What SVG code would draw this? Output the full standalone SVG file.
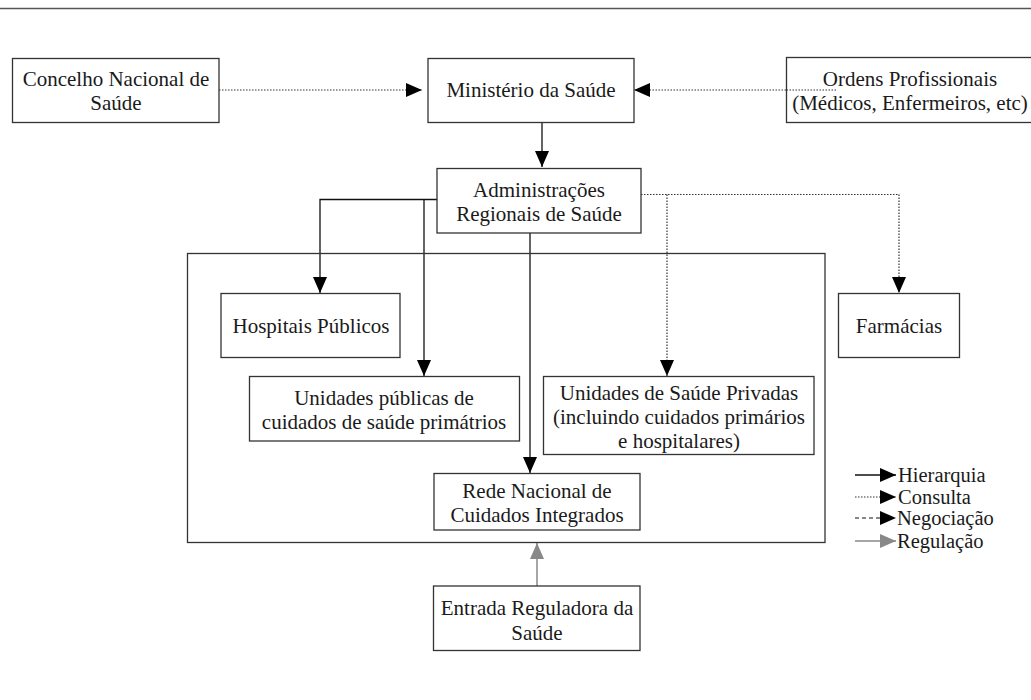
<svg xmlns="http://www.w3.org/2000/svg" width="1031" height="700" viewBox="0 0 1031 700">
<style>
.box{fill:#fff;stroke:#333;stroke-width:1.3}
.t{font-family:"Liberation Serif",serif;font-size:21px;fill:#1a1a1a;text-anchor:middle}
.tl{font-family:"Liberation Serif",serif;font-size:20.5px;fill:#1a1a1a}
.h{fill:none;stroke:#111;stroke-width:1.3}
.c{fill:none;stroke:#333;stroke-width:1.2;stroke-dasharray:1.5 1.5}
.n{fill:none;stroke:#111;stroke-width:1.2;stroke-dasharray:4 3}
.r{fill:none;stroke:#888;stroke-width:1.5}
</style>
<defs>
<marker id="ab" markerUnits="userSpaceOnUse" markerWidth="17" markerHeight="14" refX="16" refY="7" orient="auto"><path d="M0,0 L16,7 L0,14 Z" fill="#000"/></marker>
<marker id="ag" markerUnits="userSpaceOnUse" markerWidth="17" markerHeight="14" refX="16" refY="7" orient="auto"><path d="M0,0 L16,7 L0,14 Z" fill="#888"/></marker>
</defs>
<rect width="1031" height="700" fill="#fff"/>
<line x1="0" y1="8.5" x2="1031" y2="8.5" stroke="#555" stroke-width="1.5"/>

<g id="connectors">
<path class="c" d="M219,90 H422" marker-end="url(#ab)"/>
<path class="c" d="M837,90 H634" marker-end="url(#ab)"/>
<path class="h" d="M542,122 V167" marker-end="url(#ab)"/>
<path class="h" d="M437,199.5 H320 V293" marker-end="url(#ab)"/>
<path class="h" d="M424,199.5 V376" marker-end="url(#ab)"/>
<path class="h" d="M530,233 V473" marker-end="url(#ab)"/>
<path class="c" d="M641,194.5 H899 V293" marker-end="url(#ab)"/>
<path class="c" d="M667,194.5 V376" marker-end="url(#ab)"/>
<path class="r" d="M537,586 V543" marker-end="url(#ag)"/>
</g>

<g id="outer"><rect x="187.5" y="253.5" width="637.5" height="289" fill="none" stroke="#333" stroke-width="1.3"/></g>

<g id="concelho"><rect class="box" x="12.5" y="58.5" width="206.5" height="64"/>
<text class="t" x="116" y="86">Concelho Nacional de</text><text class="t" x="116" y="110">Saúde</text></g>

<g id="ministerio"><rect class="box" x="428" y="58.5" width="206" height="64"/>
<text class="t" x="531" y="97">Ministério da Saúde</text></g>

<g id="ordens"><rect class="box" x="786.5" y="57.5" width="250" height="65"/>
<text class="t" x="910" y="86">Ordens Profissionais</text><text class="t" x="910" y="110">(Médicos, Enfermeiros, etc)</text></g>
<g id="ordens-line"><path class="c" d="M786.5,90 H837"/></g>

<g id="admin"><rect class="box" x="437" y="168.5" width="204" height="64.5"/>
<text class="t" x="539" y="197">Administrações</text><text class="t" x="539" y="221">Regionais de Saúde</text></g>

<g id="hospitais"><rect class="box" x="221" y="293.5" width="179" height="64"/>
<text class="t" x="311" y="333">Hospitais Públicos</text></g>

<g id="farmacias"><rect class="box" x="838.5" y="293.5" width="121" height="64"/>
<text class="t" x="899" y="333">Farmácias</text></g>

<g id="unidades-publicas"><rect class="box" x="249.5" y="376.5" width="270" height="64.5"/>
<text class="t" x="384" y="405">Unidades públicas de</text><text class="t" x="384" y="429">cuidados de saúde primátrios</text></g>

<g id="unidades-privadas"><rect class="box" x="543.5" y="376.5" width="270.5" height="78"/>
<text class="t" x="679" y="400">Unidades de Saúde Privadas</text><text class="t" x="679" y="424">(incluindo cuidados primários</text><text class="t" x="679" y="448">e hospitalares)</text></g>

<g id="rede"><rect class="box" x="434" y="473.5" width="206" height="56.5"/>
<text class="t" x="537" y="498">Rede Nacional de</text><text class="t" x="537" y="522">Cuidados Integrados</text></g>

<g id="entrada"><rect class="box" x="433.5" y="586" width="206.5" height="64.5"/>
<text class="t" x="537" y="615">Entrada Reguladora da</text><text class="t" x="537" y="640">Saúde</text></g>

<g id="legend">
<path class="h" d="M855,475 H896" marker-end="url(#ab)"/>
<text class="tl" x="898" y="482">Hierarquia</text>
<path class="c" d="M855,497 H896" marker-end="url(#ab)"/>
<text class="tl" x="898" y="504">Consulta</text>
<path class="n" d="M855,518 H896" marker-end="url(#ab)"/>
<text class="tl" x="897" y="525">Negociação</text>
<path class="r" d="M855,541 H896" marker-end="url(#ag)"/>
<text class="tl" x="897" y="548">Regulação</text>
</g>
</svg>
